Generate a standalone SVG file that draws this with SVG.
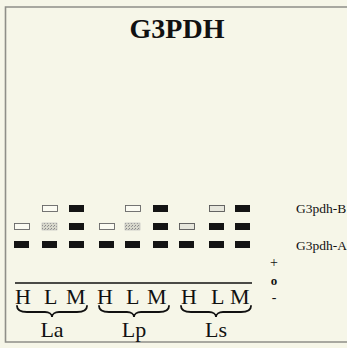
<svg xmlns="http://www.w3.org/2000/svg" width="347" height="348" viewBox="0 0 347 348">
<defs>
<pattern id="stip" width="3" height="3" patternUnits="userSpaceOnUse">
<rect width="3" height="3" fill="#d8d8cc"/>
<rect width="1" height="1" fill="#888"/>
<rect x="2" y="1" width="1" height="1" fill="#999"/>
</pattern>
</defs>
<style>
.t{font-family:"Liberation Serif","Times New Roman",serif;fill:#111}
.bk{fill:#141414}
.ol{fill:#fbfbf2;stroke:#666;stroke-width:0.9}
.og{fill:#e6e6dc;stroke:#555;stroke-width:0.9}
.st{fill:url(#stip);stroke:#aaa;stroke-width:0.5}
.br{fill:none;stroke:#111;stroke-width:1.8;stroke-linecap:round}
</style>
<rect width="347" height="348" fill="#f6f6e8"/>
<g id="frame" fill="none" stroke="#8f8f88" stroke-width="1.6">
<path d="M347 7 H5.5 V342 H347"/>
</g>
<g id="title"><text class="t" x="177" y="38" font-size="28" font-weight="bold" text-anchor="middle">G3PDH</text></g>
<g id="bands">
<rect class="ol" x="42.5" y="205.5" width="15" height="6"/>
<rect class="bk" x="69" y="205" width="15" height="7"/>
<rect class="ol" x="125.5" y="205.5" width="15" height="6"/>
<rect class="bk" x="153" y="205" width="15" height="7"/>
<rect class="og" x="209.5" y="205.5" width="15" height="6"/>
<rect class="bk" x="235" y="205" width="15" height="7"/>
<rect class="ol" x="14.5" y="223.5" width="15" height="6"/>
<rect class="st" x="42" y="223" width="15" height="7"/>
<rect class="bk" x="69" y="223" width="15" height="7"/>
<rect class="ol" x="99.5" y="223.5" width="15" height="6"/>
<rect class="st" x="125" y="223" width="15" height="7"/>
<rect class="bk" x="153" y="223" width="15" height="7"/>
<rect class="og" x="179.5" y="223.5" width="15" height="6"/>
<rect class="bk" x="209" y="223" width="15" height="7"/>
<rect class="bk" x="235" y="223" width="15" height="7"/>
<rect class="bk" x="14" y="241" width="15" height="7"/>
<rect class="bk" x="42" y="241" width="15" height="7"/>
<rect class="bk" x="69" y="241" width="15" height="7"/>
<rect class="bk" x="99" y="241" width="15" height="7"/>
<rect class="bk" x="125" y="241" width="15" height="7"/>
<rect class="bk" x="153" y="241" width="15" height="7"/>
<rect class="bk" x="179" y="241" width="15" height="7"/>
<rect class="bk" x="209" y="241" width="15" height="7"/>
<rect class="bk" x="235" y="241" width="15" height="7"/>
</g>
<g id="labels">
<text class="t" x="296" y="213" font-size="13.5">G3pdh-B</text>
<text class="t" x="296" y="250" font-size="13.5">G3pdh-A</text>
<text class="t" x="274" y="267" font-size="14" text-anchor="middle">+</text>
<text class="t" x="274" y="285" font-size="13" font-weight="bold" text-anchor="middle">o</text>
<text class="t" x="274" y="302" font-size="14" text-anchor="middle">-</text>
</g>
<g id="axis">
<line x1="15" y1="283" x2="252" y2="283" stroke="#111" stroke-width="1.5"/>
<text class="t" font-size="22" y="304">
<tspan x="15">H</tspan><tspan x="44">L</tspan><tspan x="66">M</tspan>
<tspan x="97">H</tspan><tspan x="126">L</tspan><tspan x="147">M</tspan>
<tspan x="181">H</tspan><tspan x="211">L</tspan><tspan x="230">M</tspan>
</text>
</g>
<g id="braces">
<path class="br" d="M17 306 C17 311,21 312,27 312 L45 312 C49 312,52 314,52 317 C52 314,55 312,59 312 L77 312 C83 312,87 311,87 306"/>
<path class="br" d="M99 306 C99 311,103 312,109 312 L127 312 C131 312,134 314,134 317 C134 314,137 312,141 312 L159 312 C165 312,169 311,169 306"/>
<path class="br" d="M181 306 C181 311,185 312,191 312 L209 312 C213 312,216 314,216 317 C216 314,219 312,223 312 L241 312 C247 312,251 311,251 306"/>
</g>
<g id="groups">
<text class="t" x="52" y="337" font-size="22" text-anchor="middle">La</text>
<text class="t" x="134" y="337" font-size="22" text-anchor="middle">Lp</text>
<text class="t" x="216" y="337" font-size="22" text-anchor="middle">Ls</text>
</g>
</svg>
